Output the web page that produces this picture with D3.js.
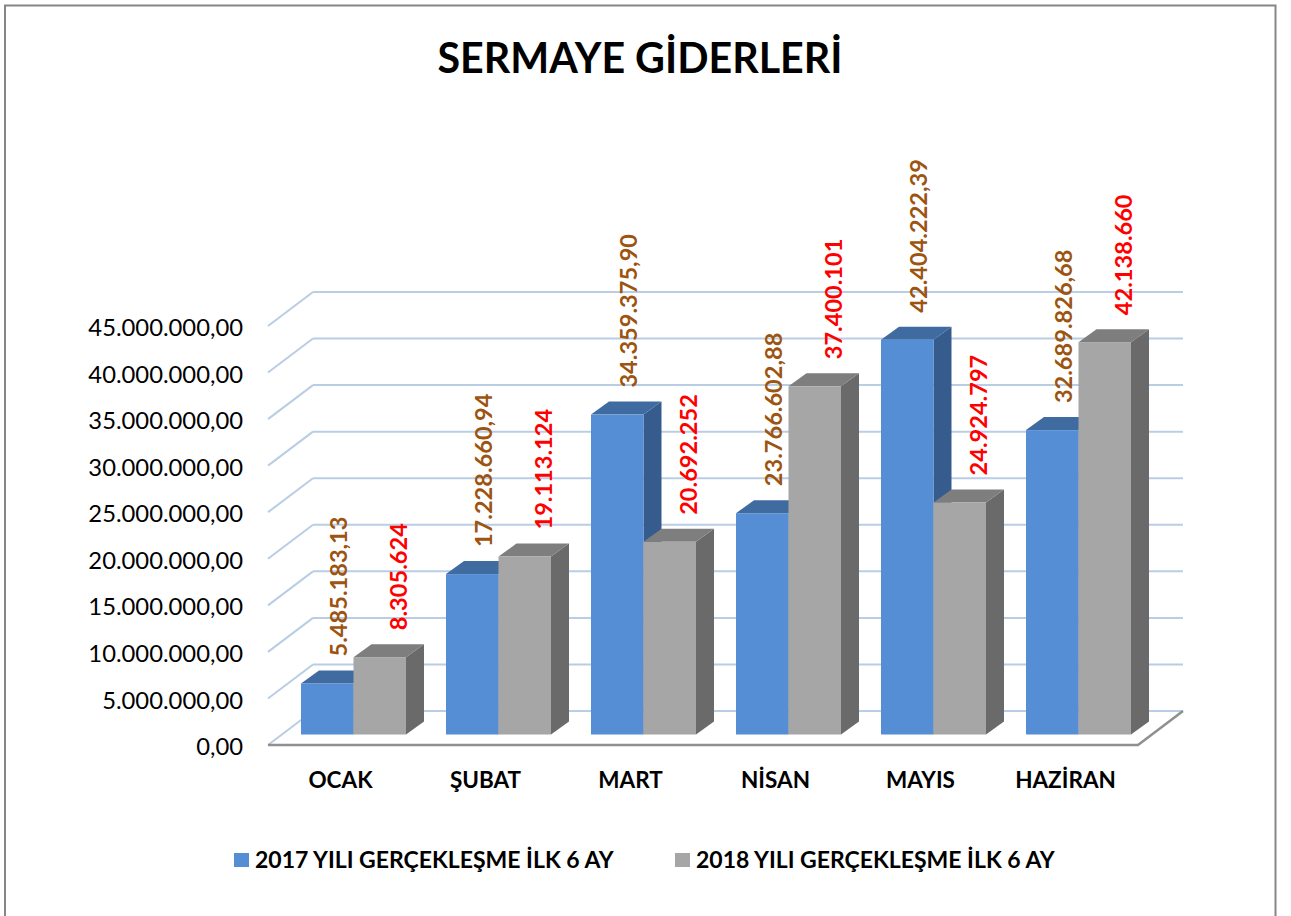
<!DOCTYPE html>
<html>
<head>
<meta charset="utf-8">
<title>SERMAYE GİDERLERİ</title>
<script src="https://cdnjs.cloudflare.com/ajax/libs/d3/7.8.5/d3.min.js"></script>
<style>
  html, body { margin: 0; padding: 0; background: #fff; overflow: hidden; }
  svg { display: block; font-family: Lato, sans-serif; }
</style>
</head>
<body>
<div id="chart"></div>
<script>
var months = ['OCAK', 'ŞUBAT', 'MART', 'NİSAN', 'MAYIS', 'HAZİRAN']
var values2017 = [5485183.13, 17228660.94, 34359375.90, 23766602.88, 42404222.39, 32689826.68]
var values2018 = [8305624, 19113124, 20692252, 37400101, 24924797, 42138660]
var seriesNames = ['2017 YILI GERÇEKLEŞME İLK 6 AY', '2018 YILI GERÇEKLEŞME İLK 6 AY']
var yTicks = [0, 5e6, 10e6, 15e6, 20e6, 25e6, 30e6, 35e6, 40e6, 45e6]

var width = 1291
var height = 916

// 3D box offsets: the back wall sits up and to the right of the front axis
var wallDx = 45
var wallDy = -34
var barInset = -10.5 // bars stand a little behind the front edge of the floor
var barDx = 18
var barDy = -13

var tr = d3.formatLocale({ decimal: ',', thousands: '.', grouping: [3], currency: ['', ''] })
var fmt2 = tr.format(',.2f')
var fmt0 = tr.format(',.0f')

var styles = [
  { front: '#558ed5', top: '#406ba1', side: '#355c8c', label: '#9c5410', labelDx: 11.5, format: fmt2 },
  { front: '#a6a6a6', top: '#7e7e7e', side: '#6a6a6a', label: '#ff0000', labelDx: 19, format: fmt0 }
]

var x = d3.scaleBand().domain(months).range([268, 1138])
var xInner = d3.scaleBand().domain([0, 1]).range([33, 138])
var y = d3.scaleLinear().domain([0, 45e6]).range([745, 326])

var svg = d3.select('#chart').append('svg')
  .attr('width', width)
  .attr('height', height)

// Outer frame, the bottom edge runs off the picture
svg.append('path')
  .attr('d', 'M5,' + (height + 5) + 'V5.5H1275.5V' + (height + 5))
  .attr('fill', 'none')
  .attr('stroke', '#868686')
  .attr('stroke-width', 2)

svg.append('text')
  .attr('x', 640)
  .attr('y', 73)
  .attr('text-anchor', 'middle')
  .attr('font-size', 41.2)
  .attr('font-weight', 700)
  .attr('fill', '#000')
  .text('SERMAYE GİDERLERİ')

// Walls
var grid = svg.append('g').attr('fill', 'none').attr('stroke', '#b9cde5').attr('stroke-width', 2)

grid.selectAll('.back')
  .data(yTicks)
  .enter().append('line')
  .attr('class', 'back')
  .attr('x1', 268 + wallDx)
  .attr('x2', 1138 + wallDx)
  .attr('y1', function (d) { return y(d) + wallDy })
  .attr('y2', function (d) { return y(d) + wallDy })

grid.selectAll('.side')
  .data(yTicks)
  .enter().append('line')
  .attr('class', 'side')
  .attr('x1', 268)
  .attr('x2', 268 + wallDx)
  .attr('y1', function (d) { return y(d) })
  .attr('y2', function (d) { return y(d) + wallDy })

// Floor
svg.append('path')
  .attr('d', 'M268,' + y(0) + 'H1138L' + (1138 + wallDx) + ',' + (y(0) + wallDy))
  .attr('fill', 'none')
  .attr('stroke', '#8f8f8f')
  .attr('stroke-width', 2.5)

// Bars
function boxTop (bx, w, by) {
  return [[bx, by], [bx + barDx, by + barDy], [bx + w + barDx, by + barDy], [bx + w, by]]
}
function boxSide (bx, w, by, base) {
  return [[bx + w, by], [bx + w + barDx, by + barDy], [bx + w + barDx, base + barDy], [bx + w, base]]
}

var barData = []
months.forEach(function (m, i) {
  barData.push({ month: m, s: 0, value: values2017[i] })
  barData.push({ month: m, s: 1, value: values2018[i] })
})

var bars = svg.selectAll('.bar')
  .data(barData)
  .enter().append('g')
  .attr('class', 'bar')

bars.append('polygon')
  .attr('fill', function (d) { return styles[d.s].side })
  .attr('points', function (d) {
    return boxSide(x(d.month) + xInner(d.s), xInner.bandwidth(), y(d.value) + barInset, y(0) + barInset).join(' ')
  })

bars.append('polygon')
  .attr('fill', function (d) { return styles[d.s].top })
  .attr('points', function (d) {
    return boxTop(x(d.month) + xInner(d.s), xInner.bandwidth(), y(d.value) + barInset).join(' ')
  })

bars.append('rect')
  .attr('fill', function (d) { return styles[d.s].front })
  .attr('x', function (d) { return x(d.month) + xInner(d.s) })
  .attr('y', function (d) { return y(d.value) + barInset })
  .attr('width', xInner.bandwidth())
  .attr('height', function (d) { return y(0) - y(d.value) })

// Data labels, read bottom to top
svg.selectAll('.value')
  .data(barData)
  .enter().append('text')
  .attr('class', 'value')
  .attr('transform', function (d) {
    var lx = x(d.month) + xInner(d.s) + xInner.bandwidth() / 2 + styles[d.s].labelDx
    var ly = y(d.value) + barInset - 27
    return 'translate(' + lx + ',' + ly + ') rotate(-90)'
  })
  .attr('dy', '.35em')
  .attr('font-size', 23.6)
  .attr('font-weight', 700)
  .attr('fill', function (d) { return styles[d.s].label })
  .text(function (d) { return styles[d.s].format(d.value) })

// Axes
var yAxis = svg.append('g')
  .attr('transform', 'translate(268,2)')
  .call(d3.axisLeft(y).tickValues(yTicks).tickFormat(fmt2).tickSize(0).tickPadding(25))
yAxis.select('.domain').remove()
yAxis.attr('font-family', 'Lato, sans-serif').attr('font-size', 23.8)
yAxis.selectAll('text').attr('fill', '#000')

var xAxis = svg.append('g')
  .attr('transform', 'translate(0,' + y(0) + ')')
  .call(d3.axisBottom(x).tickSize(0).tickPadding(27))
xAxis.select('.domain').remove()
xAxis.attr('font-family', 'Lato, sans-serif').attr('font-size', 22.5).attr('font-weight', 700)
xAxis.selectAll('text').attr('fill', '#000')

// Legend
var legendX = d3.scaleOrdinal().domain(seriesNames).range([234, 675])
var legend = svg.selectAll('.legend')
  .data(seriesNames)
  .enter().append('g')
  .attr('class', 'legend')
  .attr('transform', function (d) { return 'translate(' + legendX(d) + ',860)' })

legend.append('rect')
  .attr('y', -7)
  .attr('width', 15)
  .attr('height', 14)
  .attr('fill', function (d, i) { return styles[i].front })

legend.append('text')
  .attr('x', 21)
  .attr('dy', '.35em')
  .attr('font-size', 23)
  .attr('font-weight', 700)
  .attr('fill', '#000')
  .text(function (d) { return d })
</script>
</body>
</html>
